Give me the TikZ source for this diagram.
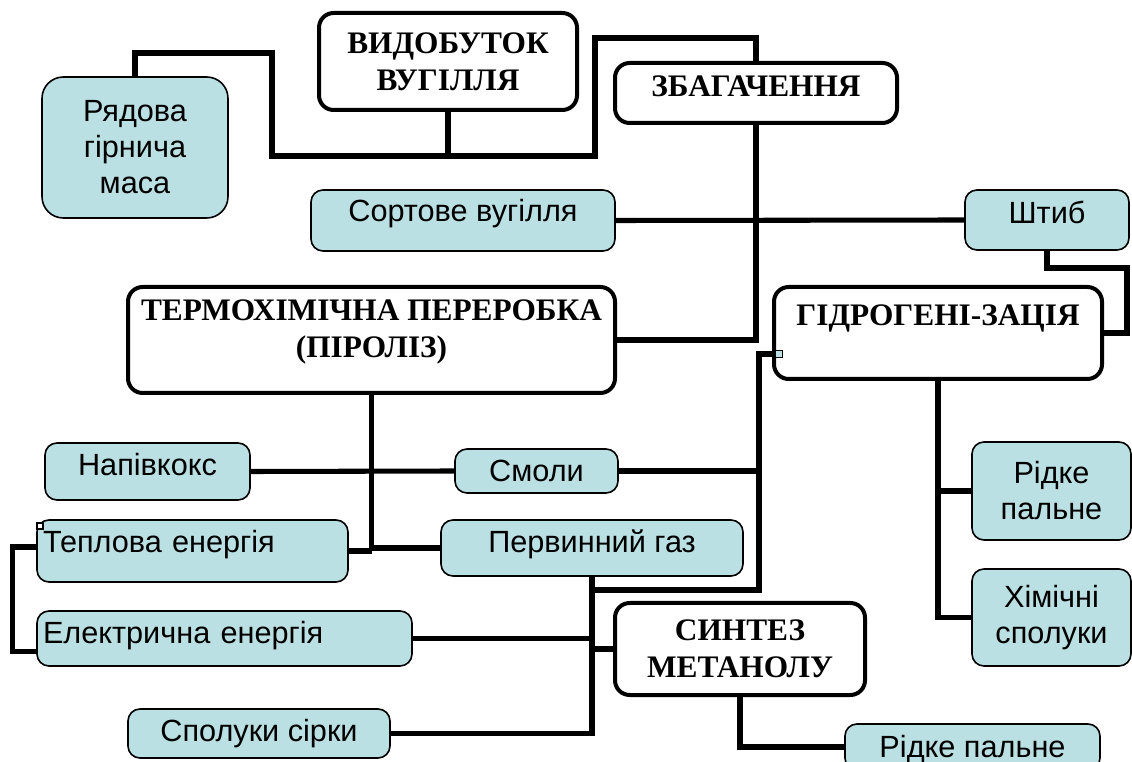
\documentclass[tikz,border=0pt]{standalone}
\usepackage{fontspec}
\setmainfont{Liberation Serif}
\newfontfamily\arialfont{Liberation Sans}
\definecolor{boxfill}{RGB}{187,224,227}
\tikzset{
  stage/.style={draw, line width=3pt, fill=white, rounded corners=11pt, align=center, inner sep=3pt, font=\fontsize{23.5}{27.75}\selectfont\bfseries},
  product/.style={draw, line width=1.2pt, fill=boxfill, rounded corners=9pt, align=center, inner sep=4.5pt, font=\arialfont\fontsize{23}{27}\selectfont},
  oneline/.style={text height=16pt, text depth=#1},
  link/.style={line width=3.8pt},
  handle/.style={draw, line width=0.8pt, fill=boxfill, inner sep=0pt, minimum size=5pt}
}
\begin{document}
\begin{tikzpicture}[x=0.75pt,y=-0.75pt]

\useasboundingbox (0,0) rectangle (1132,762);
\clip (0,0) rectangle (1132,762);

\node[stage, minimum width=193.5pt, minimum height=72.75pt] (mining) at (448,61.5) {ВИДОБУТОК\\ВУГІЛЛЯ};
\node[stage, oneline=10.9pt, minimum width=211.5pt, minimum height=45pt] (dressing) at (756,93) {ЗБАГАЧЕННЯ};
\node[product, rounded corners=16pt, minimum width=139.5pt, minimum height=105.75pt] (runmine) at (135,147.5) {Рядова\\гірнича\\маса};
\node[product, oneline=14.2pt, minimum width=228pt, minimum height=45.75pt] (sized) at (463,220.5) {Сортове вугілля};
\node[product, oneline=10.5pt, minimum width=123pt, minimum height=45pt] (fines) at (1047,220) {Штиб};

\node[stage, minimum width=365.25pt, minimum height=79.5pt] (pyrolysis) at (371.5,340) {ТЕРМОХІМІЧНА ПЕРЕРОБКА\\(ПІРОЛІЗ)\\[-10pt]\mbox{}};
\node[stage, oneline=27.4pt, minimum width=246pt, minimum height=69pt] (hydrogen) at (938,333) {ГІДРОГЕНІ-ЗАЦІЯ};

\node[product, oneline=9.75pt, minimum width=153.75pt, minimum height=42.75pt] (semicoke) at (147.5,471.5) {Напівкокс};
\node[product, oneline=0pt, minimum width=122.25pt, minimum height=33pt] (tars) at (536.5,471) {Смоли};
\node[product, oneline=13.5pt, text width=224.25pt, align=left, minimum width=233.25pt, minimum height=46.5pt] (heat) at (192.5,551) {Теплова енергія};
\node[product, oneline=9.5pt, minimum width=226.5pt, minimum height=42pt] (gas) at (592,548) {Первинний газ};
\node[product, oneline=8.25pt, text width=272.25pt, align=left, minimum width=281.25pt, minimum height=41.25pt] (power) at (224.5,638.5) {Електрична енергія};
\node[product, oneline=3.75pt, minimum width=196.5pt, minimum height=36.75pt] (sulfur) at (259,733.5) {Сполуки сірки};

\node[product, minimum width=119.25pt, minimum height=73.5pt] (fuelhyd) at (1051.5,491) {Рідке\\пальне};
\node[product, minimum width=119.25pt, minimum height=72.75pt] (chem) at (1051.5,617.5) {Хімічні\\сполуки};
\node[stage, minimum width=187.5pt, minimum height=69pt] (methanol) at (740,649) {СИНТЕЗ\\МЕТАНОЛУ};
\node[product, oneline=0pt, minimum width=191.25pt, minimum height=34.5pt] (fuelmeth) at (972.5,747) {Рідке пальне};

\coordinate (top) at (756,38);
\coordinate (bus) at (595,156);
\coordinate (hyin) at (759,354);

\draw[link] (runmine.north) |- (272,53) |- (bus) |- (top) -- (dressing.north);
\draw[link] (mining.south) -- (mining.south |- bus);
\draw[link] (sized.east) -- (fines.west);
\draw[link] (dressing.south) |- (pyrolysis.east);
\draw[link] (fines.south) |- (1127,268) |- (hydrogen.east);

\draw[link] (pyrolysis.south) |- (gas.west);
\draw[link] (heat.east) -- (heat.east -| pyrolysis.south);
\draw[link] (semicoke.east) -- (tars.west);
\draw[link] (tars.east) -- (tars.east -| hyin);
\draw[link] (hydrogen.west |- hyin) -- (hyin) -- (759,590) -| (gas.south);
\draw[link] (gas.south) |- (sulfur.east);
\draw[link] (power.east) -- (power.east -| gas.south);
\draw[link] (methanol.west) -- (methanol.west -| gas.south);
\draw[link] (methanol.south) |- (fuelmeth.west);
\draw[link] ([yshift=3pt]heat.west) -- ++(-24,0) |- ([yshift=-10pt]power.west);

\draw[link] (hydrogen.south) |- (chem.west);
\draw[link] (hydrogen.south |- fuelhyd.west) -- (fuelhyd.west);

\node[handle] (hyhandle) at (779,354) {};
\node[handle, fill=white, minimum size=4.5pt] (heathandle) at (40,526) {};

\end{tikzpicture}
\end{document}
